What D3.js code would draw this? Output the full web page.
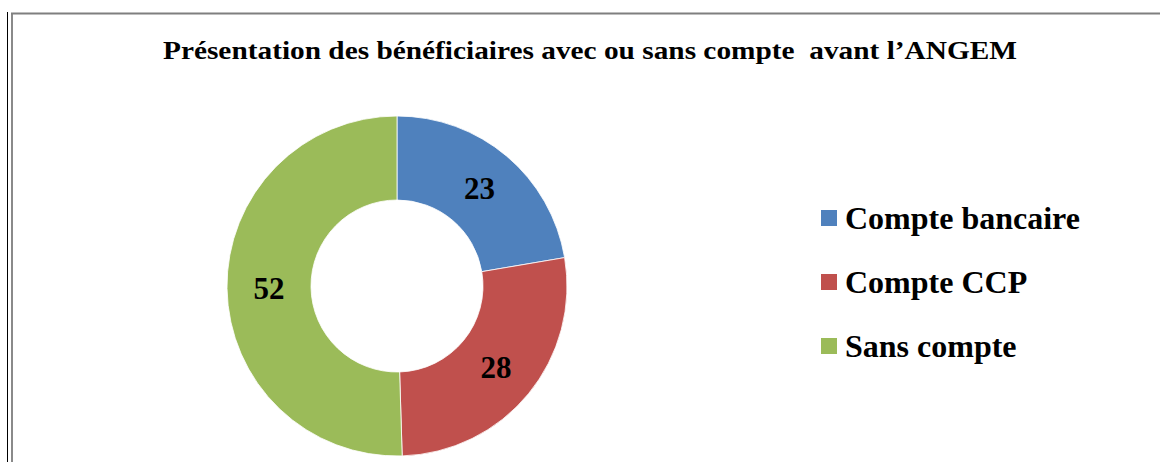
<!DOCTYPE html>
<html><head><meta charset="utf-8">
<script src="https://cdn.jsdelivr.net/npm/d3@7"></script>
<style>body{margin:0;background:#fff}svg{display:block}
text{font-family:'Liberation Serif','Times New Roman',Times,serif;font-weight:bold}</style>
</head><body>
<script>
const categories = ["Compte bancaire", "Compte CCP", "Sans compte"];
const values = [23, 28, 52];
const colors = ["#4F81BD", "#C0504D", "#9BBB59"];
const title = "Présentation des bénéficiaires avec ou sans compte  avant l\u2019ANGEM";

const W = 1160, H = 462;
const svg = d3.select("body").append("svg").attr("width", W).attr("height", H);

// frame lines
svg.append("line").attr("x1", 7.5).attr("x2", 7.5).attr("y1", 12).attr("y2", H).attr("stroke", "#000").attr("stroke-width", 1);
svg.append("line").attr("x1", 12).attr("x2", 12).attr("y1", 13).attr("y2", H).attr("stroke", "#8a8a8a").attr("stroke-width", 2);
svg.append("line").attr("x1", 11).attr("x2", W).attr("y1", 13.5).attr("y2", 13.5).attr("stroke", "#7f7f7f").attr("stroke-width", 2);

svg.append("text").attr("x", 163).attr("y", 59)
  .attr("xml:space", "preserve").style("white-space", "pre")
  .attr("textLength", 854).attr("lengthAdjust", "spacingAndGlyphs")
  .attr("font-size", 25).text(title);

const cx = 397, cy = 286, R = 170, r = 86;
const pie = d3.pie().sort(null).value(d => d)(values);
const arc = d3.arc().innerRadius(r).outerRadius(R);
const g = svg.append("g").attr("transform", `translate(${cx},${cy})`);
g.selectAll("path").data(pie).join("path").attr("d", arc)
  .attr("fill", (d, i) => colors[i]).attr("stroke", "#fff").attr("stroke-width", 0.8);

const labelArc = d3.arc().innerRadius(128).outerRadius(128);
g.selectAll("text").data(pie).join("text")
  .attr("transform", d => `translate(${labelArc.centroid(d)})`)
  .attr("text-anchor", "middle").attr("dy", "0.35em")
  .attr("font-size", 31).text(d => d.data);

const leg = svg.append("g");
categories.forEach((c, i) => {
  const y = 218 + i * 64;
  leg.append("rect").attr("x", 821).attr("y", y - 8).attr("width", 16).attr("height", 16).attr("fill", colors[i]);
  leg.append("text").attr("x", 845).attr("y", y).attr("dy", "0.35em")
    .attr("font-size", 32).text(c);
});
</script>
</body></html>
